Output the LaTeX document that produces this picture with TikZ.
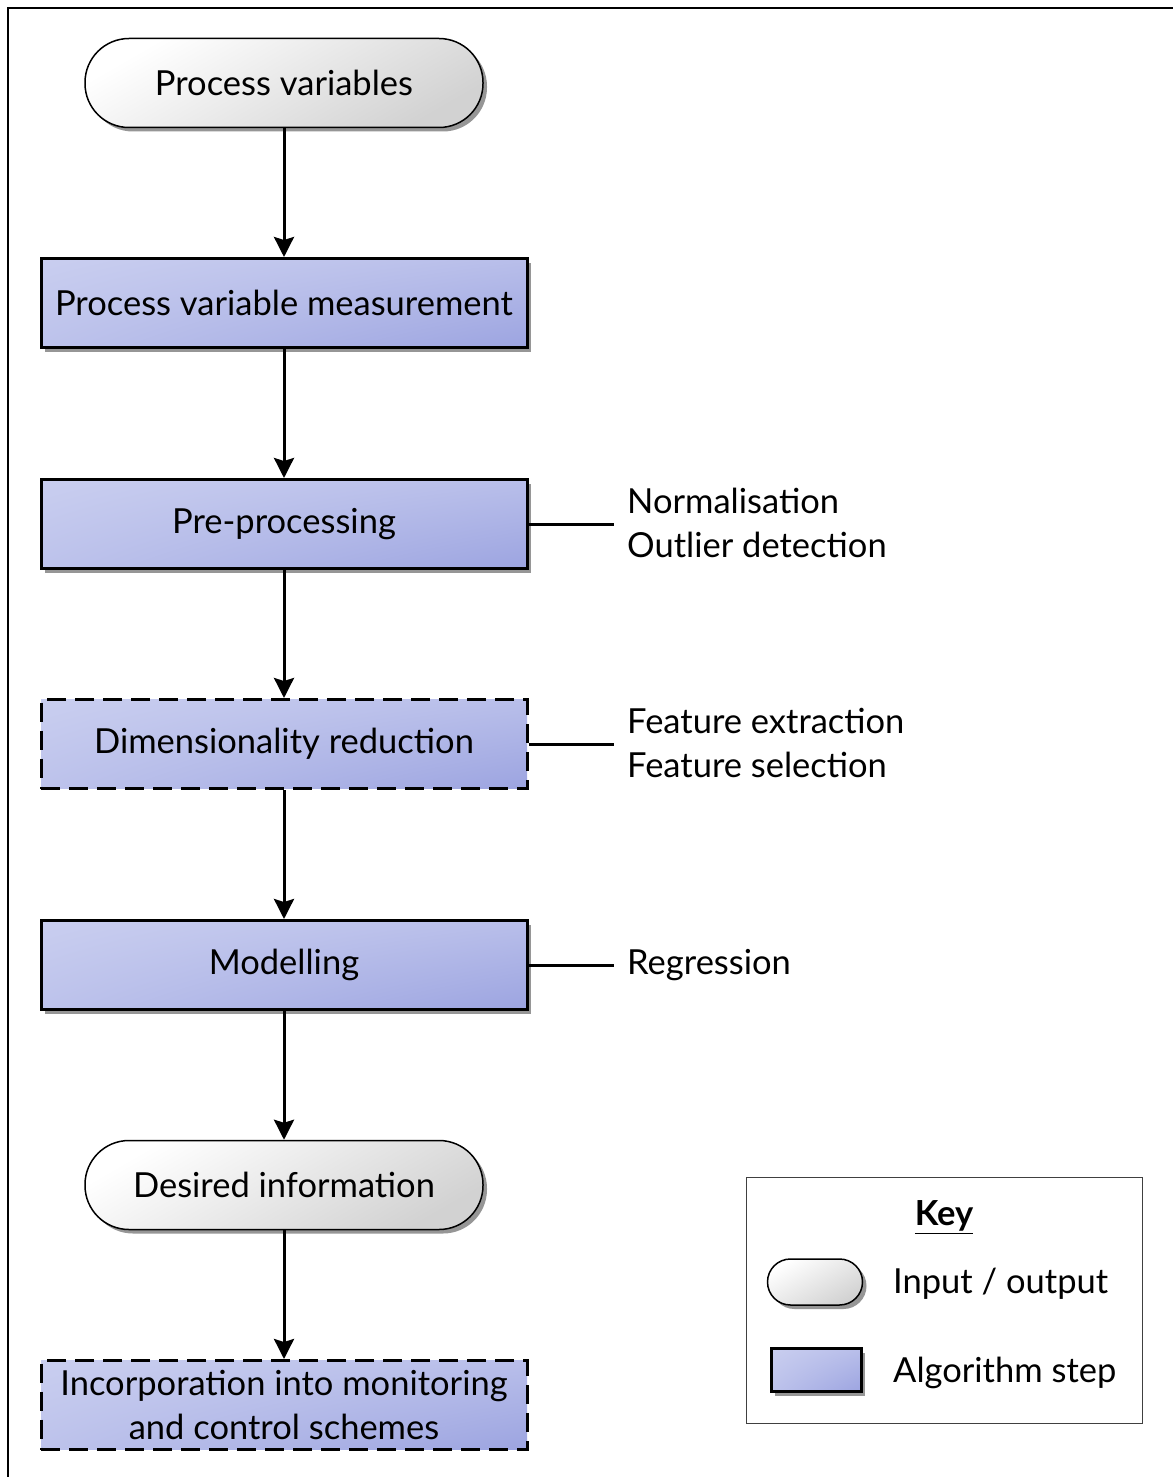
\documentclass[tikz,border=0pt]{standalone}
\usepackage{fontspec}
\setmainfont{Lato}
\usetikzlibrary{shadows,arrows.meta}
\definecolor{termlight}{RGB}{255,255,255}
\definecolor{termdark}{RGB}{210,210,210}
\definecolor{shadowgray}{RGB}{150,150,150}
% lavender fill: light along the top and left edges, darkest at the bottom-right corner
% t = 0.2u + 0.1v + 0.7uv, u = left->right, v = top->bottom
\pgfdeclarefunctionalshading{stepshade}{\pgfpoint{-50bp}{-50bp}}{\pgfpoint{50bp}{50bp}}{}{
  -1 mul 50 add 100 div
  exch 50 add 100 div
  2 copy mul 0.7 mul
  3 1 roll
  0.2 mul exch 0.1 mul add add
  dup 0.353 mul 0.831 exch sub
  exch dup 0.329 mul 0.847 exch sub
  exch 0.118 mul 0.953 exch sub
}
\tikzset{
  every node/.style={font=\fontsize{34.5}{44}\selectfont, text=black},
  softshadow/.style={drop shadow={shadow xshift=4pt, shadow yshift=-4pt, fill=shadowgray, opacity=1}},
  terminal/.style={draw, line width=1.5pt, rounded corners=44pt,
    minimum width=398pt, minimum height=89pt,
    top color=termlight, bottom color=termdark, shading angle=30},
  stepbox/.style={draw, line width=3pt, minimum width=486pt, minimum height=89pt,
    shading=stepshade, shade, align=center, inner sep=0pt},
  optbox/.style={stepbox, dash pattern=on 19pt off 9pt},
  flow/.style={line width=3pt, -{Stealth[length=20pt,width=20pt,inset=3pt]}},
  side/.style={line width=3pt},
  note/.style={anchor=west, align=left, inner sep=0pt},
}
\begin{document}
\begin{tikzpicture}[x=1pt,y=1pt]
\useasboundingbox (0,0) rectangle (1172,-1477);
\fill[white] (0,0) rectangle (1172,-1477);
% outer frame
\draw[line width=2.5pt] (1185,-8) -- (8,-8) -- (8,-1490);

% flow chart
\node[terminal, softshadow] (pv) at (284,-83) {Process variables};
\node[stepbox, softshadow] (meas) at (284,-303) {Process variable measurement};
\node[stepbox, softshadow] (pre) at (284,-524) {Pre-processing};
\node[optbox] (dim) at (284,-744) {Dimensionality reduction};
\node[stepbox, softshadow] (mod) at (284,-965) {Modelling};
\node[terminal, softshadow] (des) at (284,-1185) {Desired information};
\node[optbox] (inc) at (284,-1405) {Incorporation into monitoring\\and control schemes};

\draw[flow] (pv) -- (meas);
\draw[flow] (meas) -- (pre);
\draw[flow] (pre) -- (dim);
\draw[flow] (dim) -- (mod);
\draw[flow] (mod) -- (des);
\draw[flow] (des) -- (inc);

% side annotations
\coordinate (preEnd) at (614,-524);
\coordinate (dimEnd) at (614,-744);
\coordinate (modEnd) at (614,-965);
\draw[side] (pre.east) -- (preEnd);
\draw[side] (dim.east) -- (dimEnd);
\draw[side] (mod.east) -- (modEnd);
\node[note] (preNote) at (627,-523) {Normalisation\\Outlier detection};
\node[note] (dimNote) at (627,-743) {Feature extraction\\Feature selection};
\node[note] (modNote) at (627,-965) {Regression};

% key
\node[draw=black!75, line width=1pt, minimum width=396pt, minimum height=246pt] (key) at (944,-1300) {};
\node (keyTitle) at (944,-1217) {\underline{\textbf{Key}}};
\node[terminal, softshadow, minimum width=95pt, minimum height=46pt, rounded corners=23pt] (keyTerm) at (815,-1282) {};
\node[stepbox, softshadow, minimum width=90pt, minimum height=43pt] (keyStep) at (816,-1370) {};
\node[note] (keyTermText) at (893,-1284) {Input / output};
\node[note] (keyStepText) at (893,-1373) {Algorithm step};
\end{tikzpicture}
\end{document}
